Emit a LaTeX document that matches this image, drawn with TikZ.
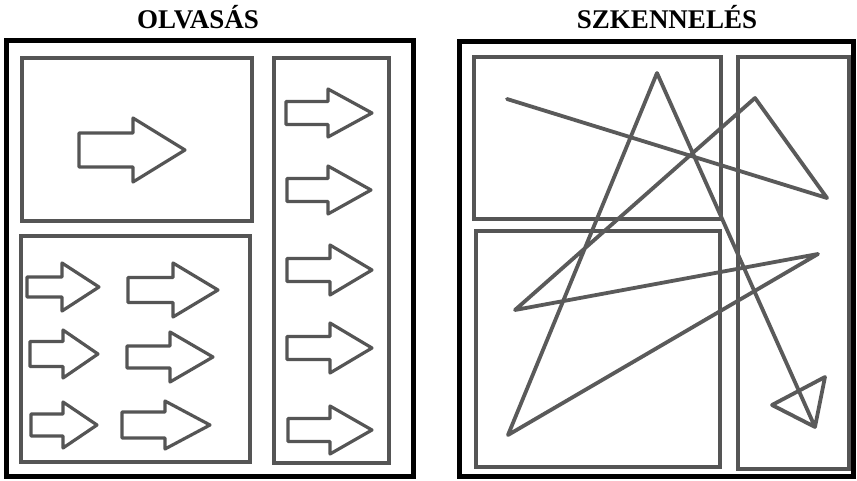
\documentclass[tikz,border=0pt]{standalone}
\usepackage{fontspec}
\setmainfont{Liberation Serif}
\definecolor{boxgray}{HTML}{555555}
\definecolor{linegray}{HTML}{5A5A5A}
\tikzset{
  outerframe/.style={draw=black, line width=5pt},
  panelbox/.style={draw=boxgray, line width=4pt},
  fatarrowstyle/.style={draw=boxgray, line width=3.2pt, line join=round},
  scanline/.style={draw=linegray, line width=3.8pt, line join=round, line cap=round},
  titlestyle/.style={font=\fontsize{27}{27}\selectfont\bfseries, inner sep=0pt}
}
% #1 shaft left, #2 head base x, #3 tip x, #4 centre y, #5 shaft half, #6 head half
\newcommand{\mkfatarrow}[6]{%
  \draw[fatarrowstyle] (#1,#4-#5) -- (#2,#4-#5) -- (#2,#4-#6) -- (#3,#4)
    -- (#2,#4+#6) -- (#2,#4+#5) -- (#1,#4+#5) -- cycle;}
\begin{document}
\begin{tikzpicture}[x=1pt,y=-1pt]
\useasboundingbox (0,0) rectangle (857,481);
\fill[white] (0,0) rectangle (857,481);
% titles
\node[titlestyle] (t1) at (198,17) {OLVASÁS};
\node[titlestyle] (t2) at (667,17) {SZKENNELÉS};
% left panel
\draw[outerframe] (6,41) rectangle (413,476);
\draw[panelbox] (22,58) rectangle (252,221);
\draw[panelbox] (21,236) rectangle (250,462);
\draw[panelbox] (274,58) rectangle (389,463);
\mkfatarrow{79}{133}{185}{150}{17}{32}
\mkfatarrow{286}{328}{372}{113}{11.5}{24}
\mkfatarrow{287}{328}{371}{190}{11.5}{24}
\mkfatarrow{287}{330}{372}{270}{11.5}{25}
\mkfatarrow{287}{330}{372}{348}{11.5}{25}
\mkfatarrow{288}{330}{372}{430}{11.5}{24}
\mkfatarrow{27}{62}{99}{287}{10}{24}
\mkfatarrow{128}{173}{218}{290}{12.5}{27}
\mkfatarrow{30}{63}{98}{354}{12.5}{24}
\mkfatarrow{127}{170}{213}{357}{11}{25}
\mkfatarrow{31}{63}{97}{425}{11}{23}
\mkfatarrow{122}{165}{210}{425}{13}{24}
% right panel
\draw[outerframe] (459,42) rectangle (853,476);
\draw[panelbox] (474,57) rectangle (721,219);
\draw[panelbox] (476,231) rectangle (720,467);
\draw[panelbox] (738,57) rectangle (849,469);
\coordinate (p0) at (507,99);
\coordinate (p1) at (827,198);
\coordinate (p2) at (755,98);
\coordinate (p3) at (515,310);
\coordinate (p4) at (818,254);
\coordinate (p5) at (508,435);
\coordinate (p6) at (657,73);
\coordinate (p7) at (815,427);
\coordinate (p8) at (825,377);
\coordinate (p9) at (772,405);
\draw[scanline] (p0) -- (p1) -- (p2) -- (p3) -- (p4) -- (p5) -- (p6) -- (p7) -- (p8) -- (p9) -- (p7);
\end{tikzpicture}
\end{document}
